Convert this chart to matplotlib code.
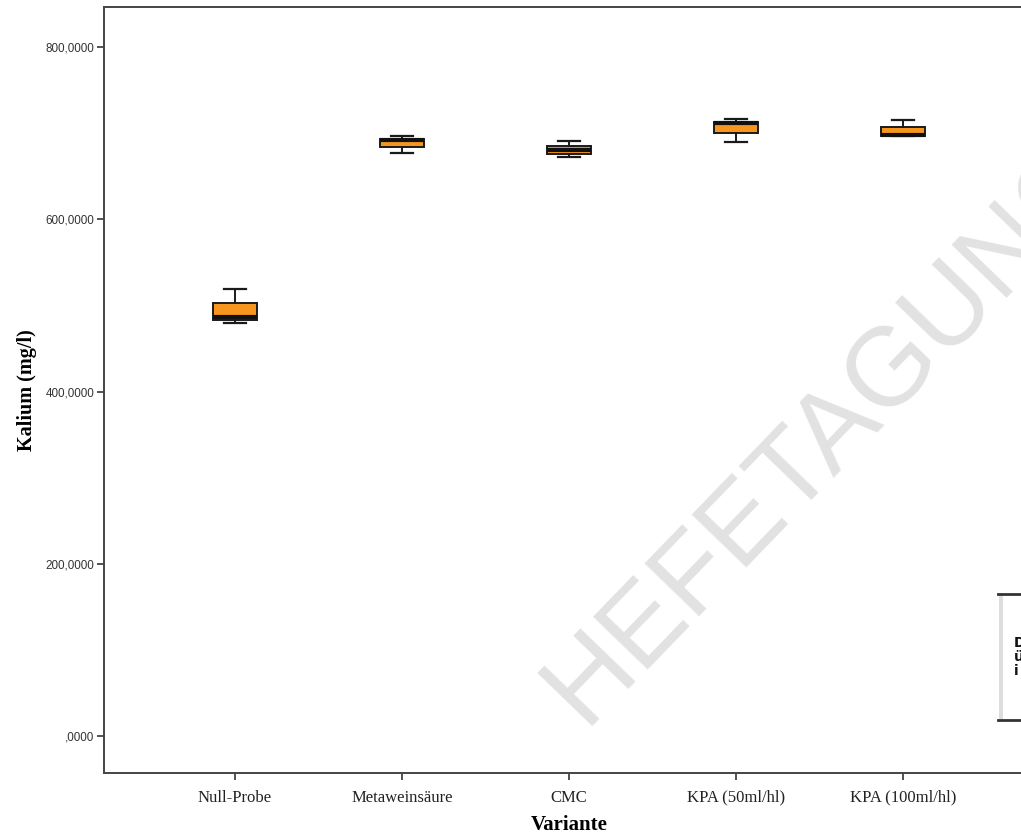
import matplotlib
matplotlib.use("Agg")
import matplotlib.pyplot as plt
from matplotlib.patches import Rectangle
from matplotlib.lines import Line2D

# Potassium content per treatment (mg/l): box-plot summary values
categories = ["Null-Probe", "Metaweinsäure", "CMC", "KPA (50ml/hl)", "KPA (100ml/hl)"]
whisker_low = [479.0, 677.0, 672.0, 690.0, 696.7]
q1 = [483.0, 684.5, 676.0, 699.8, 696.7]
median = [487.0, 692.0, 680.5, 711.4, 697.6]
q3 = [503.0, 693.7, 685.5, 713.3, 706.8]
whisker_high = [519.0, 696.6, 691.0, 717.0, 715.3]

y_ticks = [0, 200, 400, 600, 800]
y_ticklabels = [",0000", "200,0000", "400,0000", "600,0000", "800,0000"]

W, H = 1021, 838
fig = plt.figure(figsize=(W / 100, H / 100), dpi=100)
fig.patch.set_facecolor("white")

# plot area (extends past the right edge of the canvas)
left, right, top, bottom = 104, 1034, 7, 773
ax = fig.add_axes([left / W, 1 - bottom / H, (right - left) / W, (bottom - top) / H])

stats = []
for i, name in enumerate(categories):
    stats.append(dict(label=name, whislo=whisker_low[i], q1=q1[i], med=median[i],
                      q3=q3[i], whishi=whisker_high[i], fliers=[]))

positions = list(range(len(categories)))
ax.bxp(stats, positions=positions, widths=0.26, patch_artist=True, showfliers=False,
       boxprops=dict(facecolor="#F7961E", edgecolor="#1a1a1a", linewidth=1.4),
       medianprops=dict(color="#111111", linewidth=3.0),
       whiskerprops=dict(color="#1a1a1a", linewidth=1.4),
       capprops=dict(color="#1a1a1a", linewidth=1.6),
       capwidths=0.13)

ax.set_xlim(-0.784, 4.784)
ax.set_ylim(-43, 846.5)

ax.set_yticks(y_ticks)
ax.set_yticklabels(y_ticklabels, fontsize=8.4, color="#333333", family="Liberation Sans")
ax.set_xticks(positions)
ax.set_xticklabels(categories, fontsize=12, color="#222222", family="Liberation Serif")
ax.tick_params(axis="both", direction="out", length=5, width=1.2, color="#333333")
ax.tick_params(axis="x", pad=7)
ax.tick_params(axis="y", pad=2)

for side, sp in ax.spines.items():
    sp.set_color("#444444")
    sp.set_linewidth(1.4)

ax.set_xlabel("Variante", fontsize=15, fontweight="bold", family="Liberation Serif", labelpad=7)
ax.set_ylabel("Kalium (mg/l)", fontsize=14.5, fontweight="bold", family="Liberation Serif", labelpad=6)

# diagonal watermark
fig.text(828 / W, 1 - 432 / H, "HEFETAGUNG", fontsize=80, color="#e2e2e2",
         family="Liberation Sans", rotation=46, ha="center", va="center", zorder=0)

# partially visible note box at the right edge
fig.add_artist(Rectangle((998 / W, 1 - 720 / H), 40 / W, 126 / H, transform=fig.transFigure,
                         facecolor="white", edgecolor="none", zorder=3))
fig.add_artist(Rectangle((999 / W, 1 - 719 / H), 4 / W, 124 / H, transform=fig.transFigure,
                         facecolor="#dddddd", edgecolor="none", zorder=4))
for yy in (594, 720):
    fig.add_artist(Line2D([998 / W, 1.05], [1 - yy / H, 1 - yy / H], transform=fig.transFigure,
                          color="#333333", linewidth=2, zorder=5))
for yy, ch in ((643, "D"), (657, "ü"), (671, "i")):
    fig.text(1014 / W, 1 - yy / H, ch, fontsize=10, fontweight="bold", color="#111111",
             family="DejaVu Sans", ha="left", va="center", zorder=6)

fig.savefig("out.png", dpi=100)
